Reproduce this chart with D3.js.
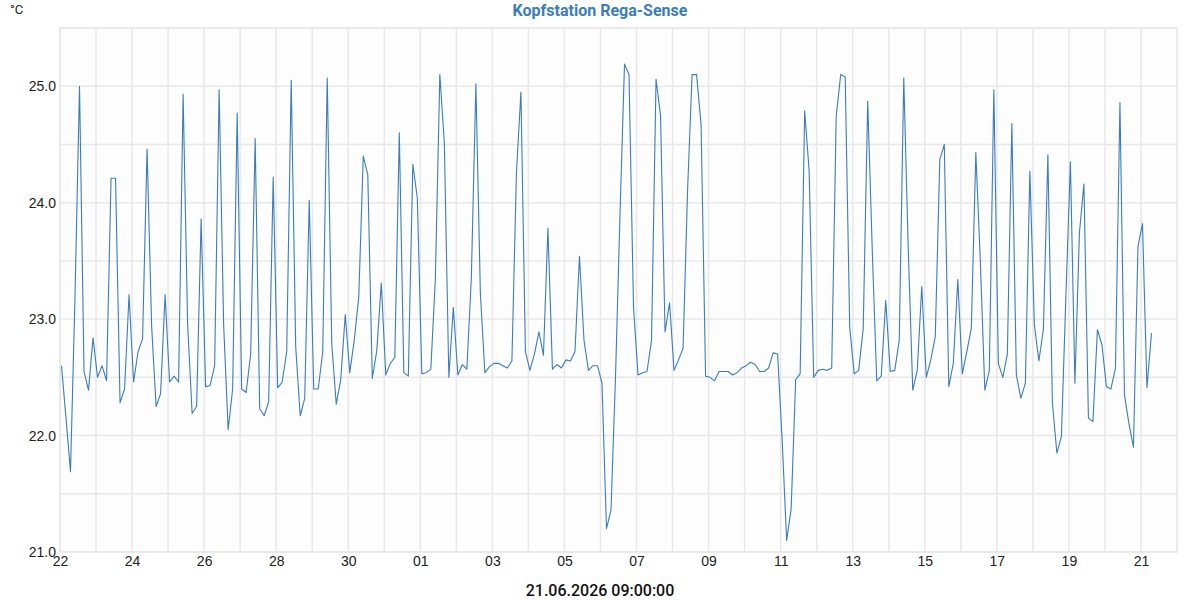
<!DOCTYPE html>
<html>
<head>
<meta charset="utf-8">
<script src="https://cdn.jsdelivr.net/npm/d3@7/dist/d3.min.js"></script>
<style>
  body { margin: 0; background: #fff; }
  svg { font-family: Roboto, "Noto Sans", sans-serif; }
</style>
</head>
<body>
<svg id="chart"></svg>
<script>
// Messwerte: ein Eintrag pro Tag, Ablesung alle 3 Stunden
const days = [
  "2026-05-22", "2026-05-23", "2026-05-24", "2026-05-25", "2026-05-26",
  "2026-05-27", "2026-05-28", "2026-05-29", "2026-05-30", "2026-05-31",
  "2026-06-01", "2026-06-02", "2026-06-03", "2026-06-04", "2026-06-05",
  "2026-06-06", "2026-06-07", "2026-06-08", "2026-06-09", "2026-06-10",
  "2026-06-11", "2026-06-12", "2026-06-13", "2026-06-14", "2026-06-15",
  "2026-06-16", "2026-06-17", "2026-06-18", "2026-06-19", "2026-06-20",
  "2026-06-21"
];
const hours = [1, 4, 7, 10, 13, 16, 19, 22];
const temps = [
  [22.60, 22.15, 21.69, 23.20, 25.00, 22.55, 22.39, 22.84],
  [22.50, 22.60, 22.47, 24.21, 24.21, 22.28, 22.40, 23.21],
  [22.46, 22.72, 22.83, 24.46, 22.95, 22.25, 22.36, 23.21],
  [22.46, 22.51, 22.46, 24.93, 22.96, 22.19, 22.25, 23.86],
  [22.42, 22.43, 22.60, 24.97, 22.95, 22.05, 22.40, 24.77],
  [22.40, 22.37, 22.70, 24.55, 22.23, 22.17, 22.29, 24.22],
  [22.41, 22.46, 22.72, 25.05, 22.76, 22.17, 22.32, 24.02],
  [22.40, 22.40, 22.72, 25.07, 22.79, 22.27, 22.48, 23.04],
  [22.54, 22.82, 23.19, 24.40, 24.24, 22.49, 22.73, 23.31],
  [22.52, 22.62, 22.67, 24.60, 22.54, 22.51, 24.33, 24.04],
  [22.53, 22.54, 22.57, 23.34, 25.10, 24.51, 22.50, 23.10],
  [22.52, 22.61, 22.57, 23.36, 25.02, 23.22, 22.54, 22.59],
  [22.62, 22.62, 22.60, 22.58, 22.64, 24.25, 24.95, 22.72],
  [22.56, 22.70, 22.89, 22.69, 23.78, 22.57, 22.61, 22.58],
  [22.65, 22.64, 22.72, 23.54, 22.82, 22.56, 22.60, 22.60],
  [22.45, 21.20, 21.36, 22.50, 23.90, 25.19, 25.10, 23.10],
  [22.52, 22.54, 22.55, 22.82, 25.06, 24.75, 22.89, 23.14],
  [22.56, 22.65, 22.75, 24.10, 25.10, 25.10, 24.67, 22.51],
  [22.50, 22.47, 22.55, 22.55, 22.55, 22.52, 22.54, 22.58],
  [22.60, 22.63, 22.61, 22.55, 22.55, 22.58, 22.71, 22.70],
  [21.96, 21.10, 21.37, 22.48, 22.53, 24.79, 24.27, 22.50],
  [22.56, 22.57, 22.56, 22.58, 24.74, 25.10, 25.08, 22.93],
  [22.53, 22.56, 22.92, 24.87, 23.60, 22.47, 22.51, 23.16],
  [22.55, 22.56, 22.82, 25.07, 23.60, 22.39, 22.56, 23.28],
  [22.50, 22.65, 22.85, 24.37, 24.50, 22.42, 22.62, 23.34],
  [22.53, 22.72, 22.92, 24.43, 23.50, 22.39, 22.56, 24.97],
  [22.62, 22.50, 22.70, 24.68, 22.52, 22.32, 22.45, 24.27],
  [22.95, 22.64, 22.91, 24.41, 22.28, 21.85, 21.99, 23.20],
  [24.35, 22.45, 23.74, 24.16, 22.15, 22.12, 22.91, 22.78],
  [22.42, 22.40, 22.58, 24.86, 22.35, 22.10, 21.90, 23.62],
  [23.82, 22.41, 22.88]
];
const yTicks = [21, 22, 23, 24, 25];
const title = "Kopfstation Rega-Sense";
const unit = "°C";
const stamp = "21.06.2026 09:00:00";

const width = 1200, height = 600;
const margin = { top: 28, right: 23, bottom: 48, left: 60 };

const parse = d3.timeParse("%Y-%m-%d %H");
const points = [];
days.forEach((d, i) => {
  temps[i].forEach((v, j) => points.push({ t: parse(d + " " + hours[j]), v: v }));
});

const svg = d3.select("#chart")
  .attr("width", width)
  .attr("height", height);

const start = parse("2026-05-22 0"), end = parse("2026-06-22 0");

const x = d3.scaleTime()
  .domain([start, end])
  .range([margin.left, width - margin.right]);

const y = d3.scaleLinear()
  .domain([21, 25.5])
  .range([height - margin.bottom, margin.top]);

// Hintergrund + Rahmen
svg.append("rect")
  .attr("x", margin.left).attr("y", margin.top)
  .attr("width", width - margin.left - margin.right)
  .attr("height", height - margin.top - margin.bottom)
  .attr("fill", "#fdfdfd")
  .attr("stroke", "#e6e6e6")
  .attr("stroke-width", 1.5);

// Gitter vertikal (jeden Tag)
svg.append("g")
  .selectAll("line")
  .data(d3.timeDay.range(start, end))
  .enter().append("line")
  .attr("x1", d => x(d)).attr("x2", d => x(d))
  .attr("y1", margin.top).attr("y2", height - margin.bottom)
  .attr("stroke", "#e8e8e8")
  .attr("stroke-width", 1.5);

// Gitter horizontal (alle 0.5)
svg.append("g")
  .selectAll("line")
  .data(d3.range(21, 25.51, 0.5))
  .enter().append("line")
  .attr("x1", margin.left).attr("x2", width - margin.right)
  .attr("y1", d => y(d)).attr("y2", d => y(d))
  .attr("stroke", "#e8e8e8")
  .attr("stroke-width", 1.5);

// Y-Achse
const yAxis = svg.append("g")
  .attr("transform", `translate(${margin.left},0)`)
  .call(d3.axisLeft(y).tickValues(yTicks).tickFormat(d3.format(".1f")).tickSize(0).tickPadding(4));
yAxis.select(".domain").remove();
yAxis.selectAll("text").attr("font-size", 14).attr("fill", "#222");

// X-Achse: jeder zweite Tag ab dem 22.
const xAxis = svg.append("g")
  .attr("transform", `translate(0,${height - margin.bottom})`)
  .call(d3.axisBottom(x).tickValues(d3.timeDay.range(start, end, 2)).tickFormat(d3.timeFormat("%d")).tickSize(0).tickPadding(4));
xAxis.select(".domain").remove();
xAxis.selectAll("text").attr("font-size", 14).attr("fill", "#222");

// Linie
const line = d3.line()
  .x(d => x(d.t))
  .y(d => y(d.v));

svg.append("path")
  .datum(points)
  .attr("d", line)
  .attr("fill", "none")
  .attr("stroke", "#3a7dbb")
  .attr("stroke-width", 1.1)
  .attr("stroke-linejoin", "round");

// Titel und Beschriftungen
svg.append("text")
  .attr("x", width / 2).attr("y", 16)
  .attr("text-anchor", "middle")
  .attr("font-size", 16)
  .attr("font-weight", "bold")
  .attr("fill", "#3a7dbb")
  .text(title);

svg.append("text")
  .attr("x", 10).attr("y", 14)
  .attr("font-size", 13)
  .attr("fill", "#222")
  .text(unit);

svg.append("text")
  .attr("x", width / 2).attr("y", 596)
  .attr("text-anchor", "middle")
  .attr("font-size", 16)
  .attr("font-weight", 500)
  .attr("fill", "#111")
  .text(stamp);
</script>
</body>
</html>
